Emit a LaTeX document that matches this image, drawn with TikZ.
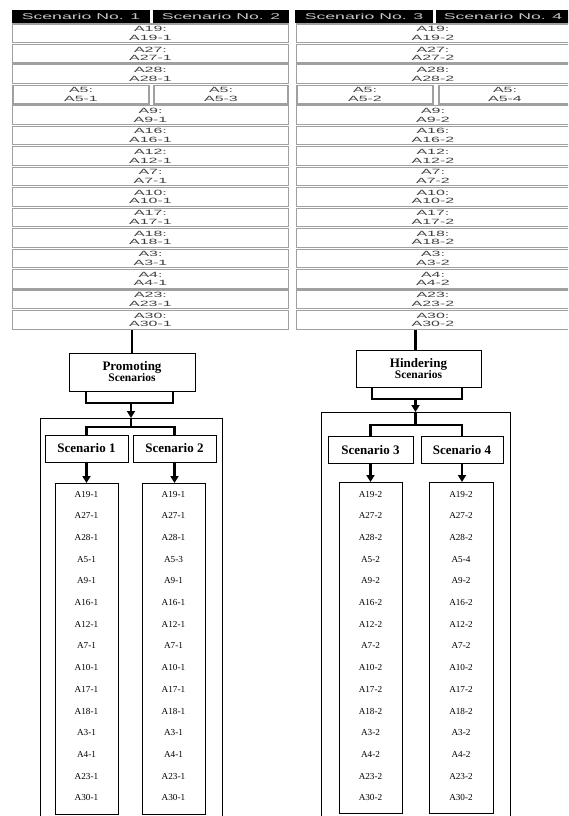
\documentclass[tikz,border=0pt]{standalone}
\usepackage{fontspec}
\setmainfont{Liberation Serif}
\newfontfamily\tabfont[FakeStretch=2.1]{Liberation Sans}
\usetikzlibrary{arrows.meta}
\definecolor{cellgray}{HTML}{A0A0A0}
\definecolor{txtgray}{HTML}{404040}
\definecolor{hdrtxt}{HTML}{C8C8C8}
\tikzset{
 cell/.style={draw=cellgray, line width=1.2pt, fill=white, inner sep=0pt, align=center,
   font=\tabfont\fontsize{7.6}{8.6}\selectfont, text=txtgray, minimum height=18.6pt},
 hdr/.style={fill=black, text=hdrtxt, inner sep=0pt, font=\tabfont\fontsize{8.4}{9}\selectfont, minimum height=13pt},
 box/.style={draw, line width=1pt, inner sep=0pt, align=center},
 scbox/.style={box, minimum height=27pt, font=\fontsize{13}{15}\selectfont\bfseries},
 listbox/.style={box, minimum width=63pt, anchor=north},
 conn/.style={line width=2.2pt},
 arr/.style={line width=2.2pt, -{Triangle[width=8pt,length=7pt]}},
 item/.style={font=\fontsize{9.2}{10}\selectfont, inner sep=0pt},
}
\begin{document}
\begin{tikzpicture}[x=1pt,y=-1pt]
\useasboundingbox (0,0) rectangle (568,816);
\clip (0,0) rectangle (568,816);
% headers
\node[hdr, minimum width=138pt] (h1) at (81,16.5) {Scenario No. 1};
\node[hdr, minimum width=136pt] (h2) at (221,16.5) {Scenario No. 2};
\node[hdr, minimum width=138pt] (h3) at (364,16.5) {Scenario No. 3};
\node[hdr, minimum width=134pt] (h4) at (503,16.5) {Scenario No. 4};
% table rows
\foreach \a [count=\i from 0] in {19,27,28,5,9,16,12,7,10,17,18,3,4,23,30} {
  \pgfmathsetmacro\yy{23+20.47*(\i+0.5)}
  \ifnum\a=5\relax
    \node[cell, minimum width=136pt] (L\i a) at (81,\yy) {A5:\\A5-1};
    \node[cell, minimum width=134pt] (L\i b) at (221,\yy) {A5:\\A5-3};
    \node[cell, minimum width=136pt] (R\i a) at (365,\yy) {A5:\\A5-2};
    \node[cell, minimum width=132pt] (R\i b) at (505,\yy) {A5:\\A5-4};
  \else
    \node[cell, minimum width=275.5pt] (L\i) at (150.5,\yy) {A\a:\\A\a-1};
    \node[cell, minimum width=273pt] (R\i) at (433,\yy) {A\a:\\A\a-2};
  \fi
}
% ---------- promoting ----------
\node[box, minimum width=126pt, minimum height=38pt] (prom) at (132,372)
  {{\fontsize{13}{14}\selectfont\bfseries Promoting}\\[-1pt]{\fontsize{11.5}{13}\selectfont\bfseries Scenarios}};
\node[box, minimum width=182pt, minimum height=410pt, anchor=north] (pout) at (131,418) {};
\node[scbox, minimum width=83pt] (s1) at (86.5,448.5) {Scenario 1};
\node[scbox, minimum width=83pt] (s2) at (174.5,448.5) {Scenario 2};
\node[listbox, minimum height=331pt] (l1) at (86.5,483) {};
\node[listbox, minimum height=331pt] (l2) at (173.5,483) {};
\coordinate (pbl) at (86,403);
\coordinate (pbr) at (173,403);
\coordinate (pj) at (131,427);
\draw[conn] (L14.south -| prom.north) -- (prom.north);
\draw[conn] (prom.south -| pbl) -- (pbl) -- (pbr) -- (prom.south -| pbr);
\draw[arr] (pout.north |- pbl) -- (pout.north);
\draw[conn] (pout.north) -- (pj);
\draw[conn] (s1.north) -- (s1.north |- pj) -- (s2.north |- pj) -- (s2.north);
\draw[arr] (s1.south) -- (s1.south |- l1.north);
\draw[arr] (s2.south) -- (s2.south |- l2.north);
% ---------- hindering ----------
\node[box, minimum width=125pt, minimum height=37pt] (hind) at (418.5,368.5)
  {{\fontsize{13}{14}\selectfont\bfseries Hindering}\\[-1pt]{\fontsize{11.5}{13}\selectfont\bfseries Scenarios}};
\node[box, minimum width=189pt, minimum height=410pt, anchor=north] (hout) at (415.5,412) {};
\node[scbox, minimum width=85pt] (s3) at (370.5,450) {Scenario 3};
\node[scbox, minimum width=82pt] (s4) at (462,450) {Scenario 4};
\node[listbox, minimum height=331pt] (l3) at (370.5,482) {};
\node[listbox, minimum height=331pt, minimum width=64pt] (l4) at (461,482) {};
\coordinate (hbl) at (372,399);
\coordinate (hbr) at (462,399);
\coordinate (hj) at (415.5,425);
\draw[conn] (R14.south -| hout.north) -- (hout.north |- hind.north);
\draw[conn] (hind.south -| hbl) -- (hbl) -- (hbr) -- (hind.south -| hbr);
\draw[arr] (hout.north |- hbl) -- (hout.north);
\draw[conn] (hout.north) -- (hj);
\draw[conn] (s3.north) -- (s3.north |- hj) -- (s4.north |- hj) -- (s4.north);
\draw[arr] (s3.south) -- (s3.south |- l3.north);
\draw[arr] (s4.south) -- (s4.south |- l4.north);
% ---------- list items ----------
\foreach \a [count=\k from 0] in {19,27,28,5,9,16,12,7,10,17,18,3,4,23,30} {
  \pgfmathsetmacro\yy{494+21.7*\k}
  \ifnum\a=5\relax
    \node[item] (i1-\k) at (86.5,\yy) {A5-1};
    \node[item] (i2-\k) at (173.5,\yy) {A5-3};
    \node[item] (i3-\k) at (370.5,\yy) {A5-2};
    \node[item] (i4-\k) at (461,\yy) {A5-4};
  \else
    \node[item] (i1-\k) at (86.5,\yy) {A\a-1};
    \node[item] (i2-\k) at (173.5,\yy) {A\a-1};
    \node[item] (i3-\k) at (370.5,\yy) {A\a-2};
    \node[item] (i4-\k) at (461,\yy) {A\a-2};
  \fi
}
\end{tikzpicture}
\end{document}
